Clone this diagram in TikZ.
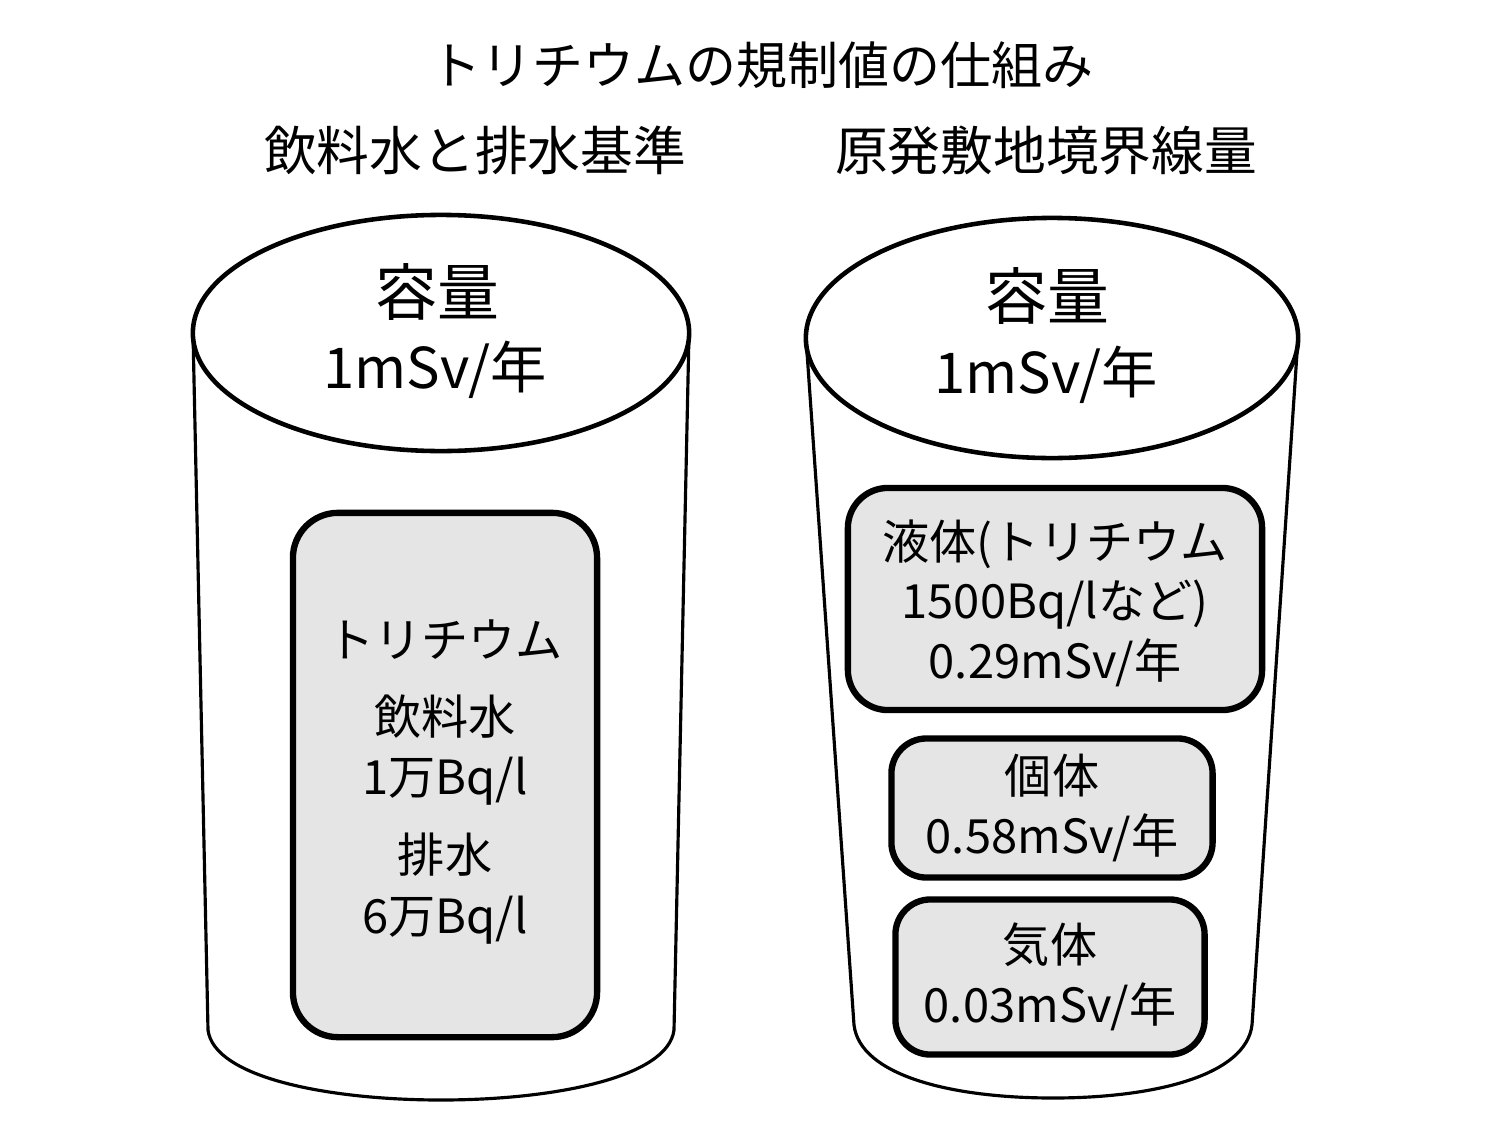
\documentclass[tikz,border=0pt]{standalone}
\usepackage{fontspec}
\setmainfont{Noto Sans CJK JP}
\usepackage{tikz}

\begin{document}
\begin{tikzpicture}[x=0.01cm,y=-0.01cm,
    cup/.style={line width=0.9pt,fill=white},
    rim/.style={line width=1.3pt,fill=white},
    box/.style={draw,line width=1.8pt,fill=black!10,align=center,
        font=\fontsize{13.4}{17}\selectfont},
    heading/.style={font=\fontsize{15}{18}\selectfont}]
    \useasboundingbox (0,0) rectangle (1500,1127);
    % titles
    \node[font=\fontsize{14.5}{18}\selectfont] (title) at (762,65) {トリチウムの規制値の仕組み};
    \node[heading] (lefthead) at (475,150) {飲料水と排水基準};
    \node[heading] (righthead) at (1046,150) {原発敷地境界線量};
    % left cup
    \draw[cup] (193,333) --(208,1030) .. controls (214,1078) and (330,1100) .. (441,1100)
        .. controls (552,1100) and (668,1078) .. (674,1030) --(689,333);
    \draw[rim] (441,333) ellipse [x radius=2.48cm, y radius=1.18cm];
    \node[font=\fontsize{17.6}{20}\selectfont] (leftcap) at (437,292) {容量};
    \node[font=\fontsize{16}{20}\selectfont] (leftdose) at (435,370) {1mSv/年};
    \node[box,rounded corners=0.45cm,minimum width=3.04cm,minimum height=5.24cm] (water) at (445,775) {};
    \node[align=center,font=\fontsize{13.4}{17.2}\selectfont] (waterlimits) at (445,782)
        {トリチウム\\[4.5pt]飲料水\\1万Bq/l\\[5pt]排水\\6万Bq/l};
    % right cup
    \draw[cup] (806,338) --(854,1025) .. controls (860,1075) and (950,1098) .. (1053,1098)
        .. controls (1156,1098) and (1246,1075) .. (1252,1025) --(1298,338);
    \draw[rim] (1052,338) ellipse [x radius=2.46cm, y radius=1.2cm];
    \node[font=\fontsize{17.6}{20}\selectfont] (rightcap) at (1047,296) {容量};
    \node[font=\fontsize{16}{20}\selectfont] (rightdose) at (1046,375) {1mSv/年};
    \node[box,rounded corners=0.4cm,minimum width=4.14cm,minimum height=2.22cm,
        text depth=0pt] (liquid) at (1055,599)
        {液体(トリチウム\\1500Bq/lなど)\\0.29mSv/年};
    \node[box,rounded corners=0.35cm,minimum width=3.21cm,minimum height=1.39cm] (solid) at (1052,808)
        {個体\\0.58mSv/年};
    \node[box,rounded corners=0.35cm,minimum width=3.09cm,minimum height=1.55cm] (gas) at (1050,977)
        {気体\\0.03mSv/年};
\end{tikzpicture}
\end{document}
